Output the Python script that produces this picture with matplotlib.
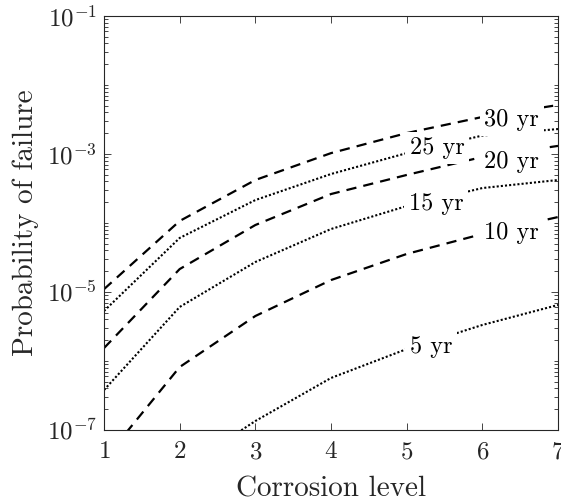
import numpy as np
import matplotlib
matplotlib.use("Agg")
import matplotlib.pyplot as plt
from matplotlib.ticker import FixedLocator, LogLocator, LogFormatterSciNotation, NullFormatter

plt.rcParams['font.family'] = ['cmr10']
plt.rcParams['mathtext.fontset'] = 'cm'
plt.rcParams['axes.formatter.use_mathtext'] = True
plt.rcParams['axes.unicode_minus'] = True

# Data: corrosion level vs probability of failure for each service time
corrosion_level = [1, 2, 3, 4, 5, 6, 7]
pf_5yr = [3.0e-9, 2.57e-8, 1.35e-7, 5.68e-7, 1.49e-6, 3.33e-6, 6.49e-6]
pf_10yr = [3.7e-8, 8.18e-7, 4.49e-6, 1.49e-5, 3.56e-5, 6.93e-5, 1.22e-4]
pf_15yr = [3.80e-7, 6.07e-6, 2.72e-5, 8.18e-5, 1.76e-4, 3.21e-4, 4.20e-4]
pf_20yr = [1.54e-6, 2.15e-5, 9.35e-5, 2.63e-4, 4.97e-4, 9.06e-4, 1.31e-3]
pf_25yr = [5.31e-6, 6.07e-5, 2.15e-4, 5.13e-4, 1.03e-3, 1.85e-3, 2.30e-3]
pf_30yr = [1.10e-5, 1.07e-4, 4.20e-4, 1.03e-3, 2.01e-3, 3.44e-3, 5.13e-3]

series_labels = ['5 yr', '10 yr', '15 yr', '20 yr', '25 yr', '30 yr']
series_values = [pf_5yr, pf_10yr, pf_15yr, pf_20yr, pf_25yr, pf_30yr]
series_styles = ['dotted', 'dashed', 'dotted', 'dashed', 'dotted', 'dashed']

# inline label positions (corrosion level, probability)
label_x = [5.32, 6.38, 5.39, 6.38, 5.40, 6.39]
label_y = [1.6e-6, 7.2e-5, 1.9e-4, 7.7e-4, 1.22e-3, 3.1e-3]

yticks = [1e-7, 1e-5, 1e-3, 1e-1]
xticks = [1, 2, 3, 4, 5, 6, 7]

txt_color = '#262626'

fig = plt.figure(figsize=(5.61, 5.03), dpi=100)
ax = fig.add_axes([0.1854, 0.1451, 0.8093, 0.8231])

for vals, style in zip(series_values, series_styles):
    if style == 'dashed':
        ax.plot(corrosion_level, vals, color='black', lw=1.6,
                linestyle=(0, (4.6, 3.2)), dash_capstyle='butt', zorder=2)
    else:
        ax.plot(corrosion_level, vals, color='black', lw=1.5,
                linestyle=(0, (1.0, 1.0)), dash_capstyle='butt', zorder=2)

for lab, lx, ly in zip(series_labels, label_x, label_y):
    ax.text(lx, ly, lab, fontsize=17.5, ha='center', va='center', color='black',
            zorder=3, bbox=dict(boxstyle='square,pad=0.2', fc='white', ec='none'))

ax.set_yscale('log')
ax.set_xlim(1, 7)
ax.set_ylim(1e-7, 1e-1)
ax.xaxis.set_major_locator(FixedLocator(xticks))
ax.yaxis.set_major_locator(FixedLocator(yticks))
ax.yaxis.set_major_formatter(LogFormatterSciNotation())
ax.yaxis.set_minor_locator(LogLocator(base=10, subs=np.arange(1, 10), numticks=30))
ax.yaxis.set_minor_formatter(NullFormatter())

ax.tick_params(which='both', direction='in', top=True, right=True,
               color=txt_color, labelcolor=txt_color, width=0.6)
ax.tick_params(which='major', length=5)
ax.tick_params(which='minor', length=2.6)
ax.tick_params(axis='x', labelsize=18, pad=8)
ax.tick_params(axis='y', labelsize=18, pad=5)
for sp in ax.spines.values():
    sp.set_color(txt_color)
    sp.set_linewidth(0.8)

ax.set_xlabel('Corrosion level', fontsize=21, color=txt_color, labelpad=9)
ax.set_ylabel('Probability of failure', fontsize=21, color=txt_color, labelpad=6)

fig.savefig('out.png', dpi=100)
